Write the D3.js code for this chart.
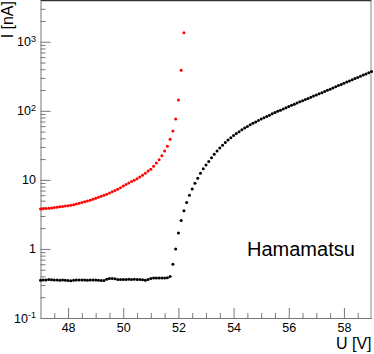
<!DOCTYPE html>
<html>
<head>
<meta charset="utf-8">
<script src="https://cdn.jsdelivr.net/npm/d3@7"></script>
<style>
  body { margin: 0; background: #fff; }
  svg { display: block; }
  text { font-family: "Liberation Sans", Arial, sans-serif; fill: #000; }
</style>
</head>
<body>
<svg id="chart" width="374" height="354"></svg>
<script>
// voltage scan: 0.1 V steps starting at 47 V
const uStart = 47.0, uStep = 0.1;

// red series (I in nA), 47.0 .. 52.2 V
const redCurrent = [
  3.78, 3.81, 3.85, 3.89, 3.93, 3.97, 4.02, 4.07, 4.12, 4.17,
  4.22, 4.30, 4.38, 4.47, 4.58, 4.69, 4.82, 4.95, 5.09, 5.24,
  5.40, 5.58, 5.77, 5.97, 6.19, 6.44, 6.71, 7.00, 7.32, 7.70,
  8.13, 8.55, 9.00, 9.45, 9.90, 10.4, 11.0, 11.7, 12.5, 13.4,
  14.3, 15.8, 17.5, 19.5, 22.3, 26.1, 30.8, 38.6, 51, 76,
  143, 388, 1345
];

// black series (I in nA), 47.0 .. 59.0 V
const blackCurrent = [
  0.352, 0.355, 0.354, 0.360, 0.357, 0.355, 0.356, 0.353, 0.355, 0.352,
  0.349, 0.347, 0.353, 0.355, 0.354, 0.356, 0.355, 0.353, 0.355, 0.354,
  0.355, 0.353, 0.350, 0.348, 0.365, 0.372, 0.373, 0.370, 0.362, 0.360,
  0.361, 0.362, 0.363, 0.362, 0.363, 0.361, 0.362, 0.358, 0.352, 0.362,
  0.372, 0.378, 0.378, 0.379, 0.380, 0.380, 0.382, 0.40, 0.60, 1.00,
  1.70, 2.59, 3.57, 4.72, 5.97, 7.36, 8.90, 10.6, 12.5, 14.5,
  16.4, 18.5, 20.9, 23.4, 26.2, 29.0, 31.8, 34.7, 37.7, 40.7,
  43.9, 46.9, 49.9, 53.0, 56.2, 59.4, 62.6, 65.8, 69.1, 72.4,
  75.9, 79.4, 82.9, 86.6, 90.3, 94.2, 98.2, 102.3, 106.5, 110.9,
  115.3, 120.0, 124.8, 129.8, 134.9, 140.2, 145.6, 151.2, 157.1, 163.2,
  169.3, 176.1, 183.1, 190.4, 198.0, 205.9, 214.1, 222.7, 231.6, 240.8,
  250.4, 260.4, 270.8, 281.6, 292.8, 304.5, 316.7, 329.3, 342.4, 356.1,
  370.3
];

const xTicks = [48, 50, 52, 54, 56, 58];
const yTicks = [0.1, 1, 10, 100, 1000];
const yTickLabels = [["10", "-1"], ["1", ""], ["10", ""], ["10", "2"], ["10", "3"]];

const W = 374, H = 354;
const mLeft = 40.5, mRight = 371.5, mTop = 1, mBottom = 318;

const svg = d3.select("#chart");

const x = d3.scaleLinear().domain([47, 59]).range([mLeft, mRight]);
const y = d3.scaleLog().domain([0.1, Math.pow(10, 3.59)]).range([mBottom, mTop]);

const toPoints = arr => arr.map((v, i) => ({u: uStart + i * uStep, i: v}));

// frame
svg.append("line").attr("x1", mLeft).attr("x2", mRight).attr("y1", mTop - 0.5).attr("y2", mTop - 0.5)
  .attr("stroke", "#333").attr("stroke-width", 1.5);
svg.append("line").attr("x1", mRight - 0.5).attr("x2", mRight - 0.5).attr("y1", mTop).attr("y2", mBottom)
  .attr("stroke", "#888");

// minor x ticks
const xMinor = d3.range(47.5, 59, 0.5).filter(v => Math.abs(v / 2 - Math.round(v / 2)) > 1e-6);
svg.append("g").attr("transform", `translate(0,${mBottom})`)
  .call(d3.axisBottom(x).tickValues(xMinor).tickSize(-5).tickFormat(""))
  .call(g => g.select(".domain").remove())
  .selectAll("line").attr("stroke", "#777");

const xAxis = svg.append("g").attr("transform", `translate(0,${mBottom})`)
  .call(d3.axisBottom(x).tickValues(xTicks).tickSize(-10).tickSizeOuter(0).tickPadding(5).tickFormat(d3.format("d")));
xAxis.select(".domain").attr("stroke", "#777");
xAxis.selectAll("line").attr("stroke", "#777");
xAxis.selectAll("text").style("font-size", "12.5px").attr("fill", "#000");

// minor y ticks (log)
const yMinor = [];
for (let e = -1; e <= 3; e++) for (let k = 2; k <= 9; k++) {
  const v = k * Math.pow(10, e);
  if (v < y.domain()[1]) yMinor.push(v);
}
svg.append("g").attr("transform", `translate(${mLeft},0)`)
  .call(d3.axisLeft(y).tickValues(yMinor).tickSize(-5).tickFormat(""))
  .call(g => g.select(".domain").remove())
  .selectAll("line").attr("stroke", "#777");

const yAxis = svg.append("g").attr("transform", `translate(${mLeft},0)`)
  .call(d3.axisLeft(y).tickValues(yTicks).tickSize(-10).tickSizeOuter(0).tickFormat(""));
yAxis.select(".domain").attr("stroke", "#777");
yAxis.selectAll("line").attr("stroke", "#777");

// y tick labels with exponents
yTicks.forEach((v, i) => {
  const [base, exp] = yTickLabels[i];
  const t = svg.append("text")
    .attr("x", mLeft - 4.5)
    .attr("y", y(v))
    .attr("dy", "0.36em")
    .attr("text-anchor", "end")
    .style("font-size", "12.5px");
  t.append("tspan").text(base);
  if (exp) t.append("tspan").attr("dy", "-0.45em").style("font-size", "9px").text(exp);
});

// data points
svg.append("g").selectAll("circle")
  .data(toPoints(blackCurrent))
  .enter().append("circle")
  .attr("cx", d => x(d.u))
  .attr("cy", d => y(d.i))
  .attr("r", 1.5)
  .attr("fill", "#000");

svg.append("g").selectAll("circle")
  .data(toPoints(redCurrent))
  .enter().append("circle")
  .attr("cx", d => x(d.u))
  .attr("cy", d => y(d.i))
  .attr("r", 1.5)
  .attr("fill", "#ff0000");

// axis titles
svg.append("text")
  .attr("transform", `translate(13,${mTop}) rotate(-90)`)
  .attr("text-anchor", "end")
  .style("font-size", "16px")
  .text("I [nA]");

svg.append("text")
  .attr("x", mRight)
  .attr("y", 349)
  .attr("text-anchor", "end")
  .style("font-size", "16px")
  .text("U [V]");

svg.append("text")
  .attr("x", 247)
  .attr("y", 255.5)
  .style("font-size", "20px")
  .text("Hamamatsu");
</script>
</body>
</html>
